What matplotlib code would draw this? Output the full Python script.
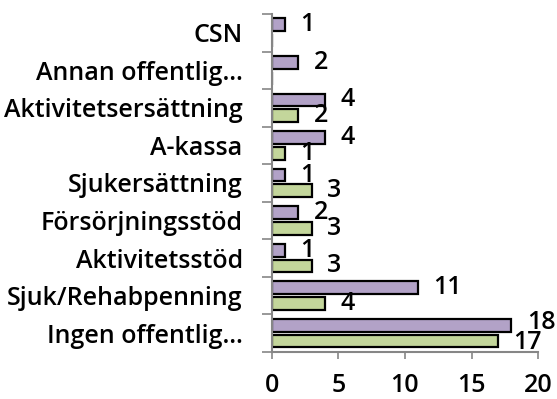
import numpy as np
import matplotlib
matplotlib.use('Agg')
import matplotlib.pyplot as plt

categories = ['CSN', 'Annan offentlig…', 'Aktivitetsersättning', 'A-kassa',
              'Sjukersättning', 'Försörjningsstöd', 'Aktivitetsstöd',
              'Sjuk/Rehabpenning', 'Ingen offentlig…']
purple_vals = [1, 2, 4, 4, 1, 2, 1, 11, 18]
green_vals = [0, 0, 2, 1, 3, 3, 3, 4, 17]
x_ticks = [0, 5, 10, 15, 20]

plt.rcParams['font.family'] = ['Open Sans', 'DejaVu Sans']
plt.rcParams['font.weight'] = 'semibold'
FS = 18

fig = plt.figure(figsize=(5.57, 3.99), dpi=100)
ax = fig.add_axes([0.488, 0.118, 0.478, 0.847])

y = np.arange(len(categories))
h = 0.34
off = 0.21
bars_p = ax.barh(y - off, purple_vals, height=h, color='#b2a2c7',
                 edgecolor='black', linewidth=1.6)
bars_g = ax.barh(y + off, green_vals, height=h, color='#c3d69b',
                 edgecolor='black', linewidth=1.6)

# value labels; the two longest bars push their labels slightly apart
for bars, vals, dy in ((bars_p, purple_vals, 2), (bars_g, green_vals, -1)):
    for b, v in zip(bars, vals):
        if v == 0:
            continue
        shift = dy if v >= 15 else 0
        ax.annotate(str(v), (v, b.get_y() + b.get_height() / 2),
                    xytext=(11, shift), textcoords='offset points',
                    ha='left', va='center', fontsize=FS)

ax.set_ylim(len(categories) - 0.5, -0.5)
ax.set_xlim(0, 20)
ax.set_yticks(y)
ax.set_yticklabels(categories, fontsize=FS)
ax.set_yticks(np.arange(-0.5, len(categories)), minor=True)
ax.tick_params(axis='y', which='major', length=0, pad=21)
ax.tick_params(axis='y', which='minor', length=7, width=1.2, color='#868686')
ax.set_xticks(x_ticks)
ax.tick_params(axis='x', length=5, width=1.2, color='#868686', labelsize=FS, pad=10)

for s in ('top', 'right'):
    ax.spines[s].set_visible(False)
for s in ('left', 'bottom'):
    ax.spines[s].set_color('#868686')
    ax.spines[s].set_linewidth(1.5)

fig.savefig('out.png', dpi=100)
